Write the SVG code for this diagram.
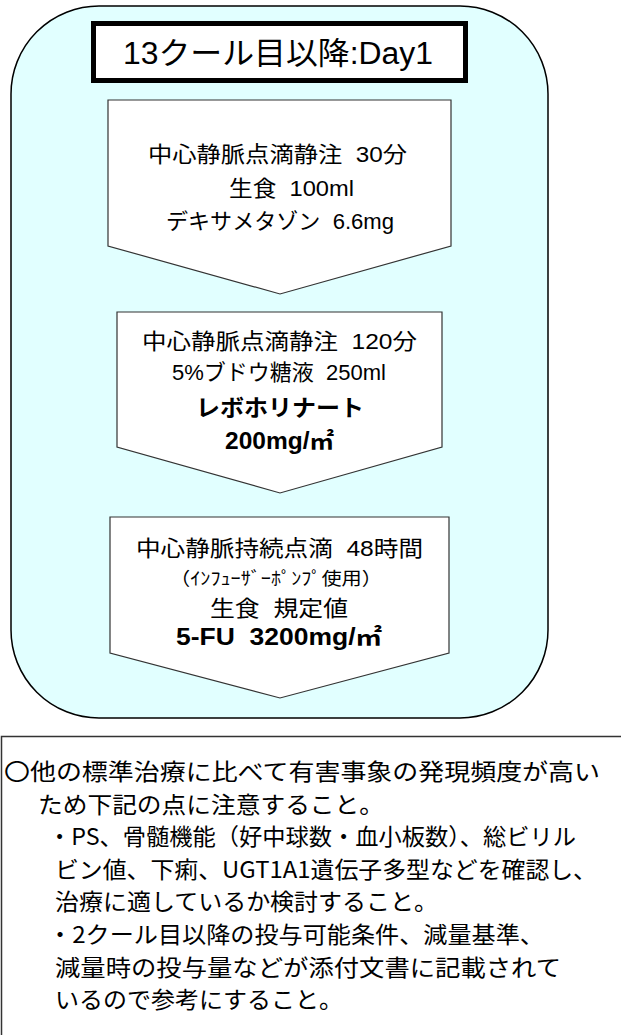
<svg xmlns="http://www.w3.org/2000/svg" width="621" height="1035" viewBox="0 0 621 1035">
<style>
text{font-family:"Liberation Sans","Noto Sans CJK JP",sans-serif;fill:#000;white-space:pre}
.b{font-size:22px}
.bb{font-weight:bold;font-size:23px}
.n{font-family:"Noto Sans CJK JP",sans-serif;font-size:23px}
.arrow{fill:#fff;stroke:#333;stroke-width:1.2}
</style>
<rect x="0" y="0" width="621" height="1035" fill="#fff"/>
<g id="panel">
<rect x="11" y="6" width="537" height="712" rx="88" ry="88" fill="#E1FFFF" stroke="#000" stroke-width="1.5"/>
</g>
<g id="title">
<rect x="93.5" y="23.5" width="372" height="57" fill="#fff" stroke="#000" stroke-width="5"/>
<text x="123" y="64" font-size="31" textLength="310" lengthAdjust="spacingAndGlyphs">13クール目以降:Day1</text>
</g>
<g id="connectors"></g>
<g id="step1">
<polygon class="arrow" points="108,100 451,100 451,246 280,294 108,246"/>
<text class="b" x="148" y="162" textLength="259" lengthAdjust="spacingAndGlyphs">中心静脈点滴静注  30分</text>
<text class="b" x="229" y="196" textLength="125" lengthAdjust="spacingAndGlyphs">生食  100ml</text>
<text class="b" x="166" y="229" textLength="228" lengthAdjust="spacingAndGlyphs">デキサメタゾン  6.6mg</text>
</g>
<g id="step2">
<polygon class="arrow" points="117,312 442,312 442,447 280,493 117,447"/>
<text class="b" x="142" y="349" textLength="275" lengthAdjust="spacingAndGlyphs">中心静脈点滴静注  120分</text>
<text class="b" x="172" y="380" textLength="214" lengthAdjust="spacingAndGlyphs">5%ブドウ糖液  250ml</text>
<text class="bb" x="196" y="416" font-size="25" textLength="168" lengthAdjust="spacingAndGlyphs">レボホリナート</text>
<text class="bb" x="225" y="449" textLength="109" lengthAdjust="spacingAndGlyphs">200mg/㎡</text>
</g>
<g id="step3">
<polygon class="arrow" points="110,517 449,517 449,653 280,698 110,653"/>
<text class="b" x="136" y="556" textLength="287" lengthAdjust="spacingAndGlyphs">中心静脈持続点滴  48時間</text>
<text x="170" y="585" font-size="18" textLength="212" lengthAdjust="spacingAndGlyphs">（ｲﾝﾌｭｰｻﾞｰﾎﾟﾝﾌﾟ使用）</text>
<text class="b" x="210" y="616" textLength="138" lengthAdjust="spacingAndGlyphs">生食  規定値</text>
<text class="bb" x="176" y="645" textLength="206" lengthAdjust="spacingAndGlyphs">5-FU  3200mg/㎡</text>
</g>
<g id="notes">
<rect x="1.5" y="736.5" width="640" height="320" fill="#fff" stroke="#333" stroke-width="1.5"/>
<text class="n" x="4" y="780" textLength="596" lengthAdjust="spacingAndGlyphs">〇他の標準治療に比べて有害事象の発現頻度が高い</text>
<text class="n" x="38" y="812.6" textLength="346" lengthAdjust="spacingAndGlyphs">ため下記の点に注意すること。</text>
<text class="n" x="48" y="845.2" textLength="528" lengthAdjust="spacingAndGlyphs">・PS、骨髄機能（好中球数・血小板数）、総ビリル</text>
<text class="n" x="55" y="877.8" textLength="542" lengthAdjust="spacingAndGlyphs">ビン値、下痢、UGT1A1遺伝子多型などを確認し、</text>
<text class="n" x="55" y="910.4" textLength="383" lengthAdjust="spacingAndGlyphs">治療に適しているか検討すること。</text>
<text class="n" x="48" y="943" textLength="496" lengthAdjust="spacingAndGlyphs">・2クール目以降の投与可能条件、減量基準、</text>
<text class="n" x="55" y="975.6" textLength="506" lengthAdjust="spacingAndGlyphs">減量時の投与量などが添付文書に記載されて</text>
<text class="n" x="55" y="1008.2" textLength="288" lengthAdjust="spacingAndGlyphs">いるので参考にすること。</text>
</g>
</svg>
